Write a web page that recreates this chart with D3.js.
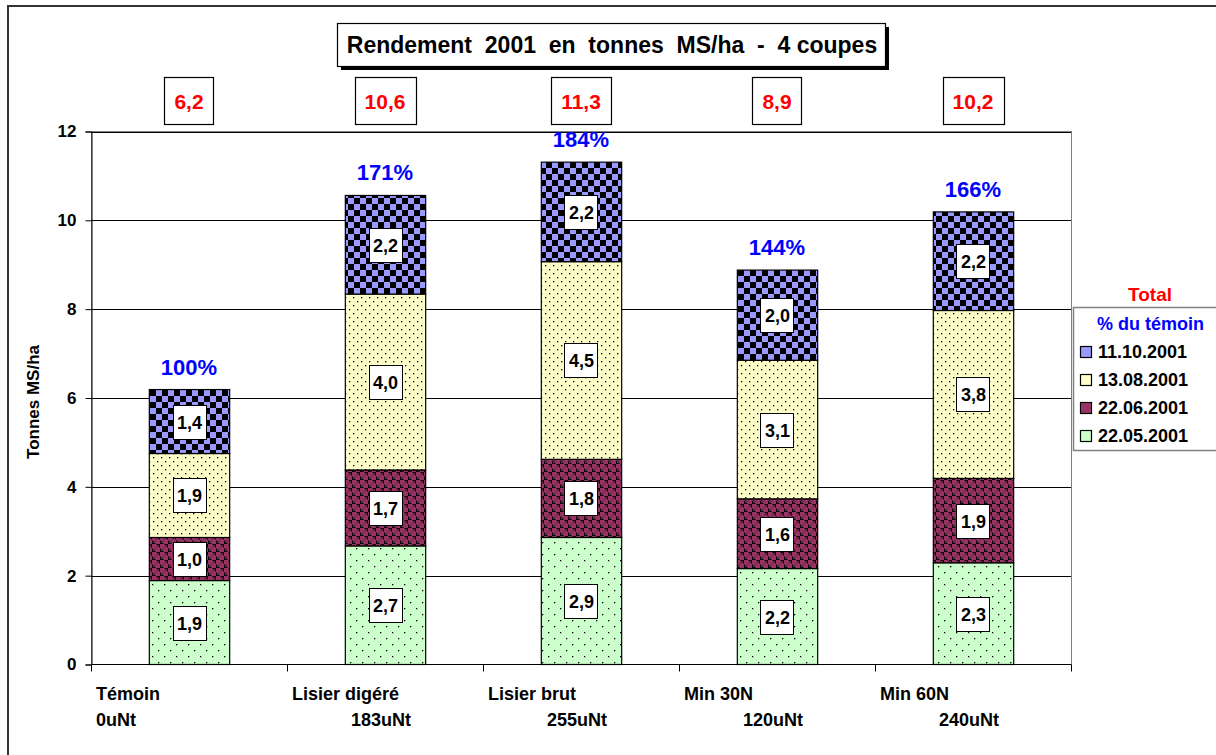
<!DOCTYPE html>
<html>
<head>
<meta charset="utf-8">
<script src="https://cdn.jsdelivr.net/npm/d3@7"></script>
<style>
  body { margin: 0; background: #fff; }
  svg { display: block; font-family: "Liberation Sans", Arial, sans-serif; font-weight: bold; }
  text { white-space: pre; }
</style>
</head>
<body>
<svg id="canvas"></svg>
<script>
var categories = ['Témoin', 'Lisier digéré', 'Lisier brut', 'Min 30N', 'Min 60N'];
var doses = ['0uNt', '183uNt', '255uNt', '120uNt', '240uNt'];
var seriesNames = ['22.05.2001', '22.06.2001', '13.08.2001', '11.10.2001'];
var cut1 = [1.89, 2.67, 2.86, 2.16, 2.29];
var cut2 = [0.97, 1.71, 1.76, 1.57, 1.90];
var cut3 = [1.89, 3.96, 4.45, 3.12, 3.78];
var cut4 = [1.44, 2.22, 2.24, 2.03, 2.22];
var totals = ['6,2', '10,6', '11,3', '8,9', '10,2'];
var percents = ['100%', '171%', '184%', '144%', '166%'];
var yTicks = [0, 2, 4, 6, 8, 10, 12];

var width = 1216, height = 755;
var svg = d3.select('#canvas').attr('width', width).attr('height', height);

var plotLeft = 91, plotRight = 1071, plotTop = 131.5, plotBottom = 664.5;

var x = d3.scaleBand().domain(categories).range([plotLeft, plotRight]).paddingInner(0.59).paddingOuter(0.295);
var xCat = d3.scaleBand().domain(categories).range([plotLeft, plotRight]);
var y = d3.scaleLinear().domain([0, 12]).range([plotBottom, plotTop]);

// patterns
var defs = svg.append('defs');
function dots(id, bg, size, pts) {
  var p = defs.append('pattern').attr('id', id).attr('patternUnits', 'userSpaceOnUse')
    .attr('width', size).attr('height', size);
  p.append('rect').attr('width', size).attr('height', size).attr('fill', bg);
  pts.forEach(function (d) {
    p.append('rect').attr('x', d[0]).attr('y', d[1]).attr('width', 1.3).attr('height', 1.3).attr('fill', '#000');
  });
}
dots('p1', '#ccffcc', 12, [[2, 2], [8, 8]]);
dots('p3', '#ffffcc', 8, [[1, 1], [5, 5]]);

var p2 = defs.append('pattern').attr('id', 'p2').attr('patternUnits', 'userSpaceOnUse').attr('width', 8).attr('height', 8);
p2.append('rect').attr('width', 8).attr('height', 8).attr('fill', '#000');
[[2, 2], [6, 6]].forEach(function (d) {
  p2.append('circle').attr('cx', d[0]).attr('cy', d[1]).attr('r', 2.9).attr('fill', '#993366');
});
[[6, 2], [2, 6]].forEach(function (d) {
  p2.append('circle').attr('cx', d[0]).attr('cy', d[1]).attr('r', 1.2).attr('fill', '#66223f');
});

var p4 = defs.append('pattern').attr('id', 'p4').attr('patternUnits', 'userSpaceOnUse').attr('width', 12).attr('height', 12);
p4.append('rect').attr('width', 12).attr('height', 12).attr('fill', '#9999ff');
p4.append('rect').attr('width', 6).attr('height', 6).attr('fill', '#000');
p4.append('rect').attr('x', 6).attr('y', 6).attr('width', 6).attr('height', 6).attr('fill', '#000');

var fills = ['url(#p1)', 'url(#p2)', 'url(#p3)', 'url(#p4)'];
var legendSwatch = ['#ccffcc', '#993366', '#ffffcc', '#9999ff'];

// outer frame
svg.append('rect').attr('x', 8).attr('y', 6).attr('width', 1230).attr('height', 780)
  .attr('fill', 'none').attr('stroke', '#333').attr('stroke-width', 2);

// plot area border
svg.append('rect').attr('x', plotLeft + 0.5).attr('y', plotTop).attr('width', plotRight - plotLeft).attr('height', plotBottom - plotTop)
  .attr('fill', 'none').attr('stroke', '#808080').attr('stroke-width', 1);

// gridlines
svg.append('g').selectAll('line').data(yTicks.filter(function (d) { return d > 0; })).enter()
  .append('line')
  .attr('x1', plotLeft).attr('x2', plotRight)
  .attr('y1', function (d) { return Math.round(y(d)) + 0.5; })
  .attr('y2', function (d) { return Math.round(y(d)) + 0.5; })
  .attr('stroke', '#000');

// y axis
var yAxis = svg.append('g').attr('transform', 'translate(' + (plotLeft + 0.5) + ',0)')
  .call(d3.axisLeft(y).tickValues(yTicks).tickSize(6).tickPadding(9));
yAxis.select('.domain').attr('stroke', '#000');
yAxis.selectAll('.tick line').attr('stroke', '#000');
yAxis.selectAll('.tick text').attr('font-size', 17).attr('font-weight', 'bold').attr('fill', '#000')
  .attr('font-family', '"Liberation Sans", Arial, sans-serif');

svg.append('text').attr('transform', 'translate(39,402) rotate(-90)').attr('text-anchor', 'middle')
  .attr('font-size', 17).text('Tonnes MS/ha');

// x axis
svg.append('line').attr('x1', plotLeft).attr('x2', plotRight).attr('y1', plotBottom).attr('y2', plotBottom).attr('stroke', '#000');
var bounds = categories.map(function (c) { return xCat(c); }).concat([plotRight]);
svg.append('g').selectAll('line').data(bounds).enter().append('line')
  .attr('x1', function (d) { return Math.round(d) + 0.5; }).attr('x2', function (d) { return Math.round(d) + 0.5; })
  .attr('y1', plotBottom).attr('y2', plotBottom + 7).attr('stroke', '#000');

var xl = svg.append('g').attr('font-size', 18);
categories.forEach(function (c, i) {
  var x0 = xCat(c);
  xl.append('text').attr('x', x0 + 5).attr('y', 700).text(c);
  xl.append('text').attr('x', i === 0 ? x0 + 5 : x0 + 64).attr('y', 726).text(doses[i]);
});

// stacked bars
var values = [cut1, cut2, cut3, cut4];
var rows = categories.map(function (c, i) {
  var r = { cat: c };
  seriesNames.forEach(function (s, k) { r[s] = values[k][i]; });
  return r;
});
var stacked = d3.stack().keys(seriesNames)(rows);

var layers = svg.append('g').selectAll('g').data(stacked).enter().append('g')
  .attr('fill', function (d, k) { return fills[k]; });
layers.selectAll('rect').data(function (d) { return d; }).enter().append('rect')
  .attr('x', function (d) { return x(d.data.cat) + 0.5; })
  .attr('width', x.bandwidth())
  .attr('y', function (d) { return y(d[1]); })
  .attr('height', function (d) { return y(d[0]) - y(d[1]); })
  .attr('stroke', '#000').attr('stroke-width', 1.2);

// segment labels
var segLabels = svg.append('g');
stacked.forEach(function (layer) {
  layer.forEach(function (d) {
    var cx = x(d.data.cat) + x.bandwidth() / 2 + 0.5;
    var cy = (y(d[0]) + y(d[1])) / 2;
    var txt = (d[1] - d[0]).toFixed(1).replace('.', ',');
    segLabels.append('rect').attr('x', Math.round(cx - 17) + 0.5).attr('y', Math.round(cy - 17) + 0.5).attr('width', 33).attr('height', 34)
      .attr('fill', '#fff').attr('stroke', '#000').attr('stroke-width', 1);
    segLabels.append('text').attr('x', cx).attr('y', cy + 7).attr('text-anchor', 'middle')
      .attr('font-size', 18).text(txt);
  });
});

// percent labels above bars
svg.append('g').selectAll('text').data(rows).enter().append('text')
  .attr('x', function (d) { return x(d.cat) + x.bandwidth() / 2; })
  .attr('y', function (d, i) { return y(stacked[3][i][1]) - 15; })
  .attr('text-anchor', 'middle').attr('font-size', 22).attr('fill', '#0000ff')
  .text(function (d, i) { return percents[i]; });

// total boxes
var tb = svg.append('g');
categories.forEach(function (c, i) {
  var cx = xCat(c) + xCat.bandwidth() / 2;
  var t = tb.append('text').attr('x', cx).attr('y', 109).attr('text-anchor', 'middle')
    .attr('font-size', 21).attr('fill', '#ff0000').text(totals[i]);
  var w = t.node().getComputedTextLength() + 20;
  tb.insert('rect', 'text').attr('x', Math.round(cx - w / 2) + 0.5).attr('y', 77.5).attr('width', Math.round(w)).attr('height', 47)
    .attr('fill', '#fff').attr('stroke', '#000').attr('stroke-width', 1.2);
});

// title
svg.append('rect').attr('x', 341).attr('y', 27).attr('width', 548).attr('height', 43).attr('fill', '#000');
svg.append('rect').attr('x', 337.5).attr('y', 23.5).attr('width', 548).attr('height', 43)
  .attr('fill', '#fff').attr('stroke', '#000').attr('stroke-width', 1.2);
svg.append('text').attr('x', 612).attr('y', 53).attr('text-anchor', 'middle').attr('font-size', 23)
  .text('Rendement  2001  en  tonnes  MS/ha  -  4 coupes');

// legend
svg.append('text').attr('x', 1150).attr('y', 301).attr('text-anchor', 'middle').attr('font-size', 19)
  .attr('fill', '#ff0000').text('Total');
svg.append('rect').attr('x', 1073.5).attr('y', 307.5).attr('width', 160).attr('height', 143)
  .attr('fill', '#fff').attr('stroke', '#808080').attr('stroke-width', 1.5);
svg.append('text').attr('x', 1097).attr('y', 330).attr('font-size', 18).attr('fill', '#0000ff').text('% du témoin');
var legendOrder = [3, 2, 1, 0];
legendOrder.forEach(function (k, j) {
  var ly = 358 + j * 28;
  svg.append('rect').attr('x', 1080.5).attr('y', ly - 11.5).attr('width', 11).attr('height', 11)
    .attr('fill', legendSwatch[k]).attr('stroke', '#000').attr('stroke-width', 1.2);
  svg.append('text').attr('x', 1098).attr('y', ly).attr('font-size', 18).text(seriesNames[k]);
});
</script>
</body>
</html>
